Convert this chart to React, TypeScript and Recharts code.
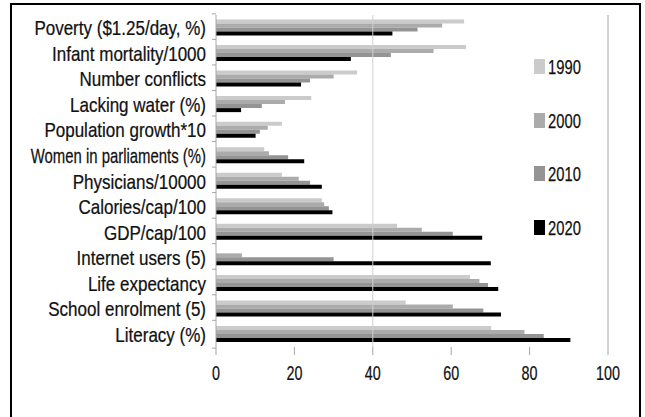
import React from "react";
import { BarChart, Bar, XAxis, YAxis, ReferenceLine, Legend } from "recharts";

const categories = [
  "Poverty ($1.25/day, %)",
  "Infant mortality/1000",
  "Number conflicts",
  "Lacking water (%)",
  "Population growth*10",
  "Women in parliaments (%)",
  "Physicians/10000",
  "Calories/cap/100",
  "GDP/cap/100",
  "Internet users (5)",
  "Life expectancy",
  "School enrolment (5)",
  "Literacy (%)",
];
const v1990 = [63.3, 63.8, 36.0, 24.3, 16.8, 12.3, 16.8, 27.0, 46.2, 0, 64.8, 48.4, 70.2];
const v2000 = [57.7, 55.5, 30.0, 17.6, 13.2, 13.5, 21.1, 27.6, 52.5, 6.6, 67.2, 60.4, 78.7];
const v2010 = [51.4, 44.6, 24.0, 11.7, 11.2, 18.4, 24.0, 28.8, 60.4, 30.0, 69.4, 68.2, 83.6];
const v2020 = [45.0, 34.4, 21.7, 6.4, 10.1, 22.5, 27.0, 29.7, 67.9, 70.1, 72.0, 72.7, 90.4];
const seriesNames = ["1990", "2000", "2010", "2020"];
const xTicks = [0, 20, 40, 60, 80, 100];

const colors = ["#cbcbcb", "#ababab", "#949494", "#000000"];
const FONT = "'Liberation Sans', Arial, sans-serif";

const data = categories.map((name, i) => ({
  name,
  s1990: v1990[i],
  s2000: v2000[i],
  s2010: v2010[i],
  s2020: v2020[i],
}));

const W = 645;
const H = 417;
const M = { top: 15, right: 37, bottom: 40, left: 0 };
const YW = 216;
const BAND = (H - M.top - M.bottom) / categories.length;

const labelScale: Record<string, number> = {
  "Women in parliaments (%)": 0.71,
};

const YTick = (props: any) => {
  const { x, y, payload, index } = props;
  const s = labelScale[payload.value] ?? 0.81;
  return (
    <g>
      <line x1={x - 4} x2={x} y1={y - BAND / 2} y2={y - BAND / 2} stroke="#a6a6a6" />
      {index === categories.length - 1 && (
        <line x1={x - 4} x2={x} y1={y + BAND / 2} y2={y + BAND / 2} stroke="#a6a6a6" />
      )}
      <g transform={`translate(${x - 10},${y + 7.5})`}>
        <text
          transform={`scale(${s},1)`}
          textAnchor="end"
          fontSize={21}
          fontFamily={FONT}
          fill="#111"
          stroke="#111"
          strokeWidth={0.25}
        >
          {payload.value}
        </text>
      </g>
    </g>
  );
};

const XTick = (props: any) => {
  const { x, y, payload } = props;
  return (
    <g transform={`translate(${x},${y + 25})`}>
      <text transform="scale(0.7,1)" textAnchor="middle" fontSize={20.5} fontFamily={FONT} fill="#111" stroke="#111" strokeWidth={0.25}>
        {payload.value}
      </text>
    </g>
  );
};

const LegendContent = () => (
  <div style={{ display: "flex", flexDirection: "column" }}>
    {seriesNames.map((n, i) => (
      <div key={n} style={{ display: "flex", alignItems: "center", height: 15, marginBottom: i < 3 ? 38.7 : 0 }}>
        <div style={{ width: 11, height: 15, background: colors[i] }} />
        <span
          style={{
            fontFamily: FONT,
            fontSize: 20.5,
            color: "#111",
            marginLeft: 3,
            display: "inline-block",
            transform: "scaleX(0.72)",
            transformOrigin: "left center",
            lineHeight: "15px",
            WebkitTextStroke: "0.25px #111",
          }}
        >
          {n}
        </span>
      </div>
    ))}
  </div>
);

export default function App() {
  return (
    <div style={{ position: "absolute", left: 0, top: 0, width: W, height: H, overflow: "hidden", background: "#fff" }}>
      <div
        style={{
          position: "absolute",
          left: 10,
          top: 3,
          width: 627,
          height: 440,
          border: "2px solid #000",
        }}
      />
      <div style={{ position: "absolute", left: 0, top: 0 }}>
        <BarChart
          width={W}
          height={H}
          data={data}
          layout="vertical"
          margin={M}
          barCategoryGap={4.5}
          barGap={0}
        >
          <XAxis
            type="number"
            domain={[0, 100]}
            ticks={xTicks}
            interval={0}
            axisLine={false}
            tickLine={{ stroke: "#a6a6a6" }}
            tickSize={8}
            tickMargin={0}
            tick={<XTick />}
          />
          <XAxis
            xAxisId="top"
            type="number"
            orientation="top"
            domain={[0, 100]}
            height={0}
            tick={false}
            tickLine={false}
            axisLine={{ stroke: "#8c8c8c" }}
          />
          <YAxis
            type="category"
            dataKey="name"
            width={YW}
            interval={0}
            axisLine={{ stroke: "#a6a6a6" }}
            tickLine={false}
            tickSize={0}
            tickMargin={0}
            tick={<YTick />}
          />
          <ReferenceLine x={40} stroke="#d0d0d0" />
          <ReferenceLine x={100} stroke="#a6a6a6" />
          <Legend
            layout="vertical"
            align="center"
            verticalAlign="middle"
            content={<LegendContent />}
            wrapperStyle={{ left: 534, top: 59, width: 100, height: 200 }}
          />
          <Bar dataKey="s1990" name="1990" fill={colors[0]} isAnimationActive={false} />
          <Bar dataKey="s2000" name="2000" fill={colors[1]} isAnimationActive={false} />
          <Bar dataKey="s2010" name="2010" fill={colors[2]} isAnimationActive={false} />
          <Bar dataKey="s2020" name="2020" fill={colors[3]} isAnimationActive={false} />
        </BarChart>
      </div>
    </div>
  );
}
